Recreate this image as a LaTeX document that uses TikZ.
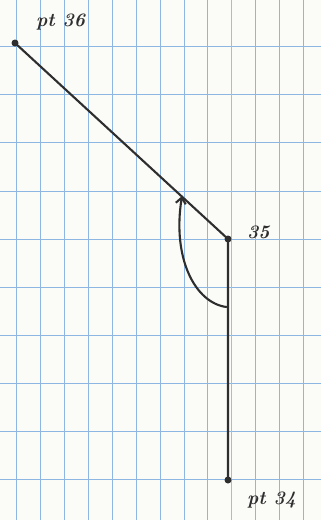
\documentclass[tikz,border=0pt]{standalone}
\usetikzlibrary{arrows.meta}
\definecolor{paper}{HTML}{FBFBF8}
\definecolor{gridblue}{HTML}{8DB6E2}
\definecolor{marginred}{HTML}{F0A0A8}
\definecolor{ink}{HTML}{2E2E2E}
\tikzset{
  pen/.style={draw=ink, line width=2.1pt, line cap=round, line join=round},
  dot/.style={circle, fill=ink, inner sep=0pt, minimum size=7pt},
  lbl/.style={text=ink, font=\fontsize{19}{22}\selectfont\bfseries\itshape, inner sep=0pt},
}
\begin{document}
\begin{tikzpicture}[x=1pt, y=-1pt]
  \useasboundingbox (0,0) rectangle (321,520);
  \fill[paper] (0,0) rectangle (321,520);
  % graph paper
  \foreach \i in {0,...,12} {
    \draw[gridblue, line width=0.9pt] ({16.7+23.9*\i},0) -- ({16.7+23.9*\i},520);
  }
  \foreach \j in {0,...,9} {
    \draw[gridblue, line width=0.9pt] (0,{46.7+48.1*\j}) -- (321,{46.7+48.1*\j});
  }
  \draw[marginred, line width=0.9pt] (231.8,0) -- (231.8,520);
  % points
  \node[dot] (p36) at (15,43) {};
  \node[dot] (p35) at (228,239) {};
  \node[dot] (p34) at (228,480) {};
  \coordinate (s) at (226.5,307);
  \coordinate (t) at (182,196);
  % lines
  \draw[pen] (p36.center) -- (p35.center) -- (p34.center);
  \draw[pen, -{Straight Barb[length=6pt, width=10pt]}] (s) .. controls (195,303) and (172,258) .. (t);
  % labels
  \node[lbl, anchor=west] (l36) at (36,22) {pt 36};
  \node[lbl, anchor=west] (l35) at (247,232) {35};
  \node[lbl, anchor=west] (l34) at (247,500) {pt 34};
\end{tikzpicture}
\end{document}
